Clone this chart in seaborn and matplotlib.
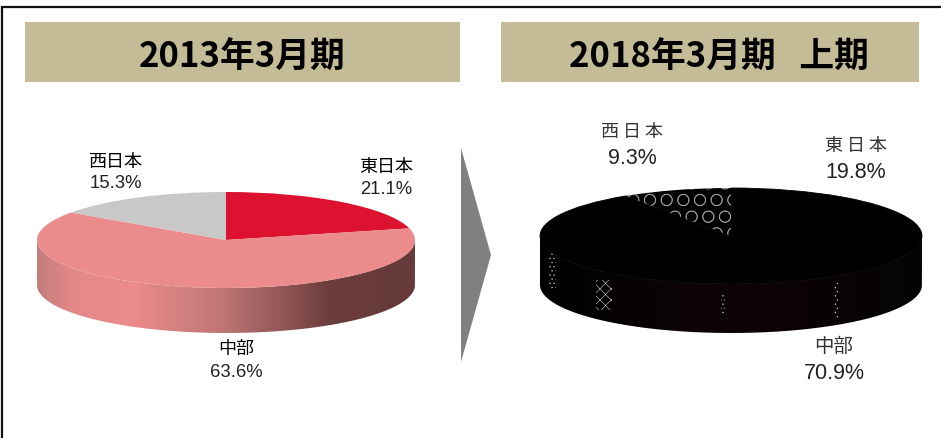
import numpy as np
import matplotlib
matplotlib.use("Agg")
import matplotlib.pyplot as plt
import seaborn as sns
from matplotlib.colors import LinearSegmentedColormap
from matplotlib.patches import Rectangle, Polygon, PathPatch
from matplotlib.path import Path

regions = ["東日本", "中部", "西日本"]
share_2013 = [21.1, 63.6, 15.3]
share_2018 = [19.8, 70.9, 9.3]
title_2013 = "2013年3月期"
title_2018 = "2018年3月期   上期"

W, H = 941, 439
Y_SHIFT = 1  # renders about a pixel high otherwise

sns.set_theme(style="white")
plt.rcParams["font.family"] = ["Liberation Sans", "Noto Sans CJK JP"]
plt.rcParams["hatch.linewidth"] = 0.4

fig = plt.figure(figsize=(W / 100, H / 100), dpi=100, facecolor="white")
bg = fig.add_axes([0, 0, 1, 1], zorder=0)
bg.set_xlim(0, W)
bg.set_ylim(H - Y_SHIFT, -Y_SHIFT)
bg.axis("off")


def draw_pie(values, colors, cx, cy, rx, ry, depth, side_cmap, hatch_idx=None):
    # side first, gradient clipped to the band under the ellipse
    t = np.linspace(np.pi, 0, 200)
    x = cx + rx * np.cos(t)
    top = cy + ry * np.sin(t)
    low = cy + depth + ry * np.sin(t)
    verts = np.r_[np.c_[x, top], np.c_[x[::-1], low[::-1]], [[x[0], top[0]]]]
    patch = PathPatch(Path(verts), fc="none", ec="none", transform=bg.transData)
    bg.add_patch(patch)
    grad = np.linspace(0, 1, 256).reshape(1, -1)
    im = bg.imshow(grad, cmap=side_cmap, aspect="auto",
                   extent=(cx - rx, cx + rx, cy + depth + ry, cy - ry))
    im.set_clip_path(patch)
    bg.set_xlim(0, W)
    bg.set_ylim(H - Y_SHIFT, -Y_SHIFT)

    ax = fig.add_axes([(cx - rx) / W, (H - cy - ry - Y_SHIFT) / H, 2 * rx / W, 2 * ry / H], zorder=1)
    ax.patch.set_alpha(0)
    wedges, _ = ax.pie(values, colors=colors, startangle=90, counterclock=False,
                       radius=1, wedgeprops={"linewidth": 0})
    if hatch_idx is not None:
        # all black: stroke the edges so no seam shows between wedges
        for i, w in enumerate(wedges):
            if i != hatch_idx:
                w.set_edgecolor("black")
                w.set_linewidth(0.6)
        wedges[hatch_idx].set_edgecolor("#a0a0a0")
        wedges[hatch_idx].set_linewidth(0)
        wedges[hatch_idx].set_hatch("O")
        wedges[hatch_idx].set_zorder(5)
    ax.set_aspect("auto")
    ax.set_xlim(-1, 1)
    ax.set_ylim(-1, 1)
    return ax


# outer frame
bg.plot([2, 2, W], [H, 7, 7], color="#111111", lw=1.6, solid_joinstyle="miter")

# header bands
bg.add_patch(Rectangle((25, 22), 435, 60, fc="#c4bc97", ec="none"))
bg.add_patch(Rectangle((501, 22), 418, 60, fc="#c4bc97", ec="none"))
bg.text(242, 56.5, title_2013, ha="center", va="center", fontsize=25, fontweight="bold",
        color="black", family=["Noto Sans CJK JP"])
bg.text(718.5, 56.5, title_2018, ha="center", va="center", fontsize=25, fontweight="bold",
        color="black", family=["Noto Sans CJK JP"])

# arrow between the two pies
bg.add_patch(Polygon([(461, 148), (491, 255), (461, 362)], fc="#808080", ec="none"))

side_2013 = LinearSegmentedColormap.from_list("side13", [
    (0.0, "#c47c7c"), (0.1, "#e58989"), (0.25, "#ec8b8b"), (0.5, "#bd7474"),
    (0.78, "#6b3c3c"), (1.0, "#663a3a")])
side_2018 = LinearSegmentedColormap.from_list("side18", [
    (0.0, "#000000"), (0.4, "#0c0406"), (0.7, "#0a0204"), (1.0, "#050505")])

draw_pie(share_2013, ["#dc1230", "#ec8b8b", "#c8c8c8"], 226, 240, 189, 48, 45, side_2013)
draw_pie(share_2018, ["#000000", "#000000", "#000000"], 731, 236, 191, 48, 49, side_2018, hatch_idx=2)

# stray light specks on the dark side
for x0, y0, w, h, pat in [(549, 250, 7, 40, "...."), (596, 280, 16, 30, "xxx"),
                          (721, 294, 4, 22, "...."), (834, 283, 5, 36, "....")]:
    bg.add_patch(Rectangle((x0, y0), w, h, fc="none", ec="#cccccc", lw=0, hatch=pat, zorder=3))

# left pie labels
label_left = [(386, 166, 189), (236, 348, 372), (116, 161, 183)]
for name, v, (lx, y1, y2) in zip(regions, share_2013, label_left):
    bg.text(lx, y1, name, ha="center", va="center", fontsize=13, color="black",
            family=["Noto Sans CJK JP"])
    bg.text(lx, y2, f"{v}%", ha="center", va="center", fontsize=13.3, color="#222222")

# right pie labels
label_right = [(856, 145, 172), (834, 345, 373), (632, 131, 158)]
for name, v, (lx, y1, y2) in zip(regions, share_2018, label_right):
    if len(name) > 2:
        bg.text(lx, y1, " ".join(name), ha="center", va="center", fontsize=13, color="#333333",
                family=["Noto Sans CJK JP"])
    else:
        bg.text(lx, y1, name, ha="center", va="center", fontsize=14, color="#333333",
                family=["Noto Sans CJK JP"])
    bg.text(lx, y2, f"{v}%", ha="center", va="center", fontsize=15.5, color="#222222")

fig.savefig("out.png", dpi=100)
